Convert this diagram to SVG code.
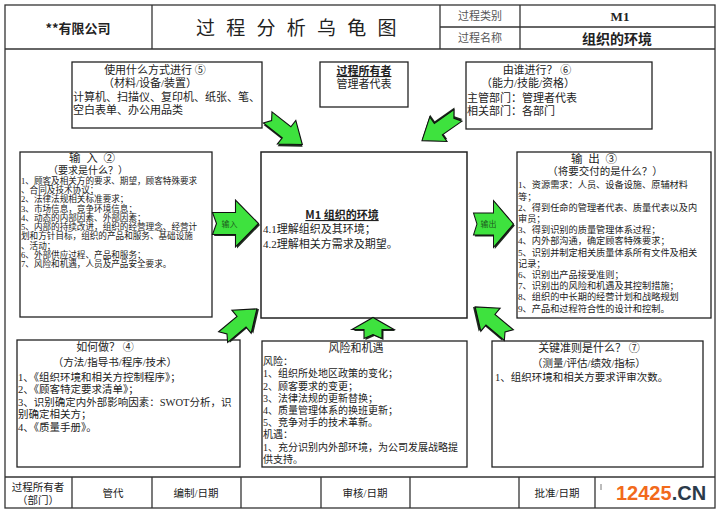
<svg xmlns="http://www.w3.org/2000/svg" width="720" height="515" viewBox="0 0 720 515">
<style>
  .t { font-family: "Liberation Serif", "Noto Sans CJK SC", serif; fill: #222; }
  .s { font-family: "Noto Sans CJK SC", "Liberation Sans", sans-serif; }
  .c { text-anchor: middle; }
  .b { font-weight: bold; }
  .u { text-decoration: underline; }
  .box { fill: #fff; stroke: #222; stroke-width: 1.3; }
  .rule { stroke: #333; stroke-width: 1.3; fill: none; }
  .arr { fill: #3ee23e; stroke: #111; stroke-width: 1.1; stroke-linejoin: miter; }
  .shd { fill: #1f2a1f; }
  .al { font-family: "Noto Sans CJK SC", sans-serif; font-size: 8px; fill: #1d5a1d; text-anchor: middle; }
</style>
<defs>
  <path id="bigArrow" d="M-23,-11 L0,-11 L0,-23.5 L23,0 L0,23.5 L0,11 L-23,11 L-19,0 Z"/>
  <path id="smallArrow" d="M-22,-7 L2,-7 L2,-15 L22,0 L2,15 L2,7 L-22,7 L-17,0 Z"/>
  <path id="upArrow" d="M-9,11 L-9,2 L-21,2 L0,-10 L21,2 L9,2 L9,11 L0,7 Z"/>
</defs>
<rect width="720" height="515" fill="#fff"/>

<g id="frame">
  <rect class="rule" x="5" y="5" width="710" height="503"/>
  <line class="rule" x1="5" y1="49" x2="715" y2="49"/>
  <line class="rule" x1="5" y1="477" x2="715" y2="477"/>
</g>

<g id="header">
  <line class="rule" x1="152" y1="5" x2="152" y2="49"/>
  <line class="rule" x1="440" y1="5" x2="440" y2="49"/>
  <line class="rule" x1="520" y1="5" x2="520" y2="49"/>
  <line class="rule" x1="440" y1="27" x2="715" y2="27"/>
  <text class="t s b c" x="78" y="33" font-size="13">**有限公司</text>
  <text class="t s" x="196" y="35" font-size="19" letter-spacing="3.5" xml:space="preserve">过 程 分 析 乌 龟 图</text>
  <text class="t c" x="480" y="20" font-size="11" style="fill:#555">过程类别</text>
  <text class="t c" x="480" y="42" font-size="11" style="fill:#555">过程名称</text>
  <text class="t b c" x="620" y="21" font-size="13">M1</text>
  <text class="t s b c" x="617" y="44" font-size="14">组织的环境</text>
</g>

<g id="box-resources">
  <rect class="box" x="72" y="62" width="190" height="66"/>
  <text class="t c" x="155" y="74" font-size="11" xml:space="preserve">使用什么方式进行 ⑤</text>
  <text class="t c" x="150" y="87" font-size="11">（材料/设备/装置）</text>
  <text class="t" x="73" y="101" font-size="11">计算机、扫描仪、复印机、纸张、笔、</text>
  <text class="t" x="73" y="114" font-size="11">空白表单、办公用品类</text>
</g>

<g id="box-owner">
  <rect class="box" x="320" y="62" width="88" height="45"/>
  <text class="t s b u c" x="364" y="75" font-size="11">过程所有者</text>
  <text class="t c" x="364" y="88" font-size="11">管理者代表</text>
</g>

<g id="box-who">
  <rect class="box" x="466" y="62" width="186" height="67"/>
  <text class="t c" x="537" y="74" font-size="11" xml:space="preserve">由谁进行？ ⑥</text>
  <text class="t c" x="528" y="87" font-size="11">（能力/技能/资格）</text>
  <text class="t" x="467" y="102" font-size="11">主管部门：管理者代表</text>
  <text class="t" x="467" y="115" font-size="11">相关部门：各部门</text>
</g>

<g id="box-input">
  <rect class="box" x="20" y="152" width="192" height="165"/>
  <text class="t c" x="92" y="162" font-size="11.5" xml:space="preserve">输  入  ②</text>
  <text class="t c" x="88" y="174" font-size="10">（要求是什么？）</text>
  <g font-size="8.6">
    <text class="t" x="21" y="183.6">1、顾客及相关方的要求、期望，顾客特殊要求</text>
    <text class="t" x="21" y="192.9">、合同及技术协议；</text>
    <text class="t" x="21" y="202.2">2、法律法规相关标准要求；</text>
    <text class="t" x="21" y="211.5">3、市场信息，竞争环境信息；</text>
    <text class="t" x="21" y="220.8">4、动态的内部因素、外部因素；</text>
    <text class="t" x="21" y="230.1">5、内部的持续改进，组织的经营理念、经营计</text>
    <text class="t" x="21" y="239.4">划和方针目标，组织的产品和服务、基础设施</text>
    <text class="t" x="21" y="248.7">、活动；</text>
    <text class="t" x="21" y="258">6、外部供应过程、产品和服务；</text>
    <text class="t" x="21" y="267.3">7、风险和机遇，人员及产品安全要求。</text>
  </g>
</g>

<g id="box-process">
  <rect class="box" x="261" y="152" width="206" height="166" style="stroke-width:1.5"/>
  <text class="t s b u c" x="342" y="219" font-size="11">M1 组织的环境</text>
  <text class="t" x="263" y="233" font-size="11">4.1理解组织及其环境；</text>
  <text class="t" x="263" y="247.5" font-size="11">4.2理解相关方需求及期望。</text>
</g>

<g id="box-output">
  <rect class="box" x="517" y="152" width="194" height="166"/>
  <text class="t c" x="594" y="163" font-size="11.5" xml:space="preserve">输  出  ③</text>
  <text class="t c" x="605" y="175" font-size="10.5">（将要交付的是什么？）</text>
  <g font-size="9.2">
    <text class="t" x="518" y="188.3">1、资源需求：人员、设备设施、原辅材料</text>
    <text class="t" x="518" y="199.5">等；</text>
    <text class="t" x="518" y="210.7">2、得到任命的管理者代表、质量代表以及内</text>
    <text class="t" x="518" y="221.9">审员；</text>
    <text class="t" x="518" y="233.1">3、得到识别的质量管理体系过程；</text>
    <text class="t" x="518" y="244.3">4、内外部沟通，确定顾客特殊要求；</text>
    <text class="t" x="518" y="255.5">5、识别并制定相关质量体系所有文件及相关</text>
    <text class="t" x="518" y="266.7">记录；</text>
    <text class="t" x="518" y="277.9">6、识别出产品接受准则；</text>
    <text class="t" x="518" y="289.1">7、识别出的风险和机遇及其控制措施；</text>
    <text class="t" x="518" y="300.3">8、组织的中长期的经营计划和战略规划</text>
    <text class="t" x="518" y="311.5">9、产品和过程符合性的设计和控制。</text>
  </g>
</g>

<g id="box-how">
  <rect class="box" x="17" y="340" width="223" height="127"/>
  <text class="t c" x="105" y="351" font-size="11" xml:space="preserve">如何做？ ④</text>
  <text class="t c" x="115" y="366" font-size="10.5">（方法/指导书/程序/技术）</text>
  <g font-size="10.5">
    <text class="t" x="18" y="380.8">1、《组织环境和相关方控制程序》；</text>
    <text class="t" x="18" y="393.3">2、《顾客特定要求清单》；</text>
    <text class="t" x="18" y="405.8">3、识别确定内外部影响因素：SWOT分析，识</text>
    <text class="t" x="18" y="418.3">别确定相关方；</text>
    <text class="t" x="18" y="430.8">4、《质量手册》。</text>
  </g>
</g>

<g id="box-risk">
  <rect class="box" x="262" y="341" width="205" height="126"/>
  <text class="t c" x="356" y="352" font-size="11">风险和机遇</text>
  <g font-size="10">
    <text class="t" x="263" y="365.1">风险：</text>
    <text class="t" x="263" y="377.3">1、组织所处地区政策的变化；</text>
    <text class="t" x="263" y="389.5">2、顾客要求的变更；</text>
    <text class="t" x="263" y="401.7">3、法律法规的更新替换；</text>
    <text class="t" x="263" y="413.9">4、质量管理体系的换班更新；</text>
    <text class="t" x="263" y="426.1">5、竞争对手的技术革新。</text>
    <text class="t" x="263" y="438.3">机遇：</text>
    <text class="t" x="263" y="450.5">1、充分识别内外部环境，为公司发展战略提</text>
    <text class="t" x="263" y="462.7">供支持。</text>
  </g>
</g>

<g id="box-criteria">
  <rect class="box" x="492" y="341" width="211" height="126"/>
  <text class="t c" x="589" y="352" font-size="11" xml:space="preserve">关键准则是什么？ ⑦</text>
  <text class="t c" x="589" y="367" font-size="10.5">（测量/评估/绩效/指标）</text>
  <text class="t" x="495" y="381" font-size="10.5">1、组织环境和相关方要求评审次数。</text>
</g>

<g id="connectors">
  <g transform="translate(285,131) rotate(38)">
    <use href="#smallArrow" class="shd" transform="translate(1.5,1.5)"/>
    <use href="#smallArrow" class="arr"/>
  </g>
  <g transform="translate(440,128) rotate(145)">
    <use href="#smallArrow" class="shd" transform="translate(-1.5,1.5)"/>
    <use href="#smallArrow" class="arr"/>
  </g>
  <g transform="translate(235.5,223.5)">
    <use href="#bigArrow" class="shd" transform="translate(1.5,1.5)"/>
    <use href="#bigArrow" class="arr"/>
    <text class="al" x="-6" y="3">输入</text>
  </g>
  <g transform="translate(493.5,224)">
    <g transform="scale(0.87,1)">
      <use href="#bigArrow" class="shd" transform="translate(1.5,1.5)"/>
      <use href="#bigArrow" class="arr"/>
    </g>
    <text class="al" x="-5" y="3">输出</text>
  </g>
  <g transform="translate(240,323) rotate(-40)">
    <use href="#smallArrow" class="shd" transform="translate(1.5,1.5)"/>
    <use href="#smallArrow" class="arr"/>
  </g>
  <g transform="translate(373,327.5)">
    <use href="#upArrow" class="shd" transform="translate(1.5,1.5)"/>
    <use href="#upArrow" class="arr"/>
  </g>
  <g transform="translate(492,321) rotate(-140)">
    <use href="#smallArrow" class="shd" transform="translate(1.5,-1.5)"/>
    <use href="#smallArrow" class="arr"/>
  </g>
</g>

<g id="footer">
  <line class="rule" x1="72" y1="477" x2="72" y2="508"/>
  <line class="rule" x1="152" y1="477" x2="152" y2="508"/>
  <line class="rule" x1="241" y1="477" x2="241" y2="508"/>
  <line class="rule" x1="321" y1="477" x2="321" y2="508"/>
  <line class="rule" x1="410" y1="477" x2="410" y2="508"/>
  <line class="rule" x1="519" y1="477" x2="519" y2="508"/>
  <line class="rule" x1="595" y1="477" x2="595" y2="508"/>
  <text class="t c" x="38" y="491" font-size="10.5">过程所有者</text>
  <text class="t c" x="38" y="504" font-size="10.5">（部门）</text>
  <text class="t c" x="113" y="497" font-size="10.5">管代</text>
  <text class="t c" x="196" y="497" font-size="10.5">编制/日期</text>
  <text class="t c" x="365" y="497" font-size="10.5">审核/日期</text>
  <text class="t c" x="557" y="497" font-size="10.5">批准/日期</text>
  <line x1="601" y1="484" x2="601" y2="490" stroke="#555" stroke-width="0.8"/>
  <text x="616" y="500" font-family="Liberation Sans, Arial, sans-serif" font-weight="bold" font-size="20"><tspan fill="#f26a1b">12425</tspan><tspan fill="#2b3a4a">.CN</tspan></text>
</g>
</svg>
